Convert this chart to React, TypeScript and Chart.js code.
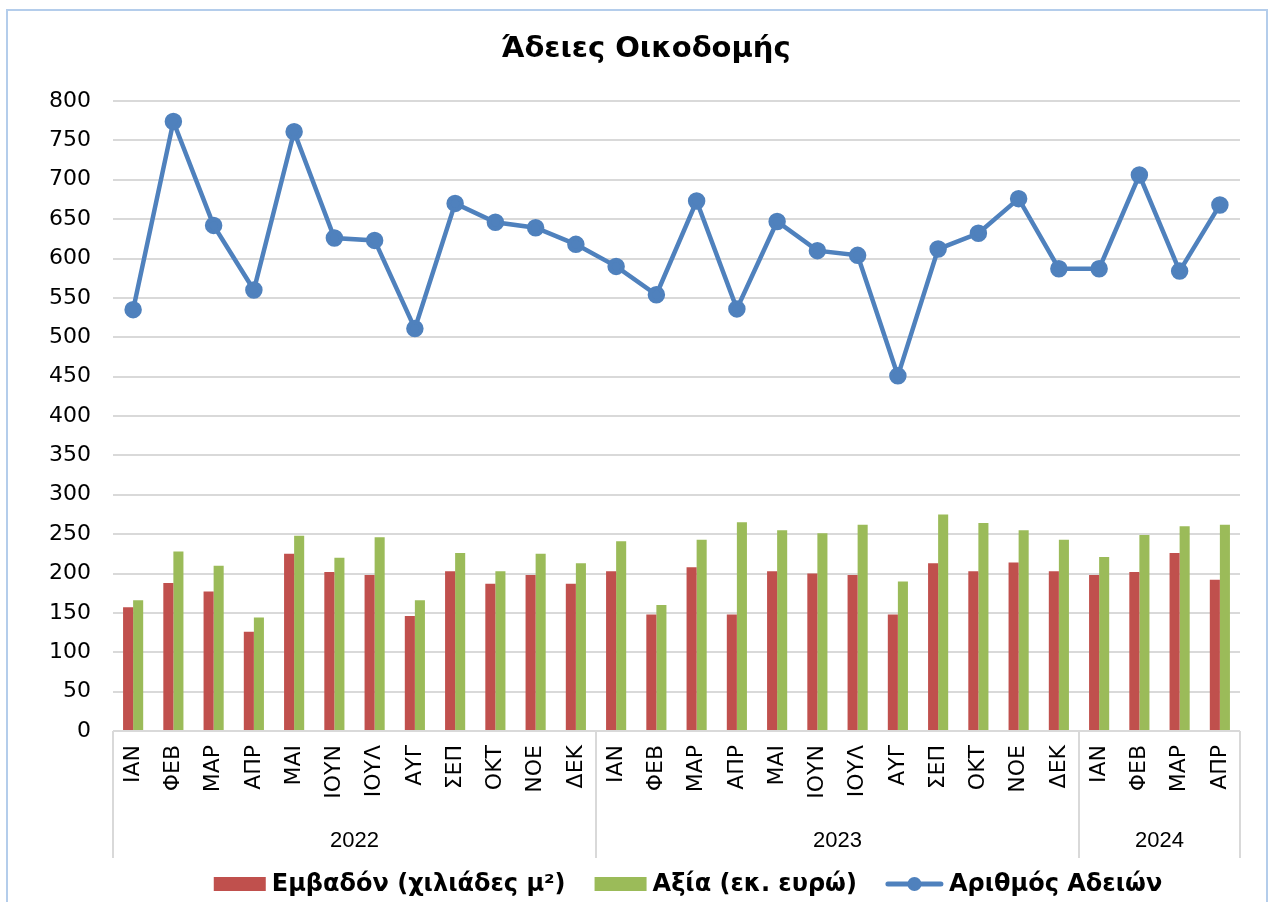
import React, { useEffect, useRef } from "react";
import { Chart, registerables } from "chart.js";

Chart.register(...registerables);

const months = [
  "ΙΑΝ", "ΦΕΒ", "ΜΑΡ", "ΑΠΡ", "ΜΑΙ", "ΙΟΥΝ", "ΙΟΥΛ", "ΑΥΓ", "ΣΕΠ", "ΟΚΤ", "ΝΟΕ", "ΔΕΚ",
  "ΙΑΝ", "ΦΕΒ", "ΜΑΡ", "ΑΠΡ", "ΜΑΙ", "ΙΟΥΝ", "ΙΟΥΛ", "ΑΥΓ", "ΣΕΠ", "ΟΚΤ", "ΝΟΕ", "ΔΕΚ",
  "ΙΑΝ", "ΦΕΒ", "ΜΑΡ", "ΑΠΡ",
];
const years = ["2022", "2023", "2024"];
const yearCounts = [12, 12, 4];

const area = [
  157, 188, 177, 126, 225, 202, 198, 146, 203, 187, 198, 187,
  203, 148, 208, 148, 203, 200, 198, 148, 213, 203, 214, 203,
  198, 202, 226, 192,
];
const value = [
  166, 228, 210, 144, 248, 220, 246, 166, 226, 203, 225, 213,
  241, 160, 243, 265, 255, 251, 262, 190, 275, 264, 255, 243,
  221, 249, 260, 262,
];
const permits = [
  535, 774, 642, 560, 761, 626, 623, 511, 670, 646, 639, 618,
  590, 554, 673, 536, 647, 610, 604, 451, 612, 632, 676, 587,
  587, 706, 584, 668,
];

const TITLE = "Άδειες Οικοδομής";
const LEGEND_LABELS = ["Εμβαδόν (χιλιάδες μ²)", "Αξία (εκ. ευρώ)", "Αριθμός Αδειών"];

const RED = "#C0504D";
const GREEN = "#9BBB59";
const BLUE = "#4F81BD";

const decorPlugin = {
  id: "decor",
  afterDraw(chart: any) {
    const x = chart.scales.x;
    const ctx = chart.ctx;
    const bottom = chart.chartArea.bottom;
    const n = months.length;
    const w = (x.right - x.left) / n;
    ctx.save();
    // year separators
    ctx.strokeStyle = "#D9D9D9";
    ctx.lineWidth = 2;
    let idx = 0;
    const bounds = [0];
    yearCounts.forEach((c) => {
      idx += c;
      bounds.push(idx);
    });
    bounds.forEach((b) => {
      const px = x.left + b * w;
      ctx.beginPath();
      ctx.moveTo(px, bottom);
      ctx.lineTo(px, bottom + 127);
      ctx.stroke();
    });
    ctx.fillStyle = "#000";
    ctx.font = "22px 'Liberation Sans'";
    ctx.textAlign = "center";
    ctx.textBaseline = "middle";
    years.forEach((yr, i) => {
      const cx = x.left + ((bounds[i] + bounds[i + 1]) / 2) * w;
      ctx.fillText(yr, cx, bottom + 110);
    });

    // title
    ctx.font = "bold 29px 'DejaVu Sans'";
    ctx.fillText(TITLE, 638, 38);

    // legend
    ctx.font = "bold 24px 'DejaVu Sans'";
    ctx.textAlign = "left";
    const boxW = [52, 52, 57];
    const gapText = 6;
    const gapItem = 29;
    const widths = LEGEND_LABELS.map((t, i) => boxW[i] + gapText + ctx.measureText(t).width);
    const total = widths.reduce((a, b) => a + b, 0) + gapItem * (widths.length - 1);
    let lx = 680 - total / 2;
    const ly = 873;
    LEGEND_LABELS.forEach((t, i) => {
      if (i < 2) {
        ctx.fillStyle = i === 0 ? RED : GREEN;
        ctx.fillRect(lx, ly - 7, boxW[i], 14);
      } else {
        ctx.strokeStyle = BLUE;
        ctx.lineWidth = 5;
        ctx.lineCap = "round";
        ctx.beginPath();
        ctx.moveTo(lx + 2, ly);
        ctx.lineTo(lx + boxW[i] - 2, ly);
        ctx.stroke();
        ctx.fillStyle = BLUE;
        ctx.beginPath();
        ctx.arc(lx + boxW[i] / 2, ly, 7, 0, Math.PI * 2);
        ctx.fill();
      }
      ctx.fillStyle = "#000";
      ctx.fillText(t, lx + boxW[i] + gapText, ly + 1);
      lx += widths[i] + gapItem;
    });
    ctx.restore();
  },
};

export default function App() {
  const ref = useRef<HTMLCanvasElement>(null);
  useEffect(() => {
    const chart = new Chart(ref.current!, {
      type: "bar",
      data: {
        labels: months,
        datasets: [
          {
            type: "bar",
            label: LEGEND_LABELS[0],
            data: area,
            backgroundColor: RED,
            categoryPercentage: 0.5,
            barPercentage: 1.0,
            order: 1,
          },
          {
            type: "bar",
            label: LEGEND_LABELS[1],
            data: value,
            backgroundColor: GREEN,
            categoryPercentage: 0.5,
            barPercentage: 1.0,
            order: 2,
          },
          {
            type: "line",
            label: LEGEND_LABELS[2],
            data: permits,
            borderColor: BLUE,
            backgroundColor: BLUE,
            borderWidth: 4.5,
            pointRadius: 6.5,
            pointBackgroundColor: BLUE,
            pointBorderColor: BLUE,
            tension: 0,
            order: 0,
          },
        ],
      },
      options: {
        animation: false,
        responsive: false,
        layout: { padding: { left: 0, right: 26, top: 90, bottom: 41 } },
        plugins: {
          title: { display: false },
          legend: { display: false },
          tooltip: { enabled: false },
        },
        scales: {
          x: {
            offset: true,
            grid: { display: false, drawTicks: false },
            border: { display: false },
            ticks: {
              autoSkip: false,
              maxRotation: 90,
              minRotation: 90,
              padding: 14,
              color: "#000",
              font: { family: "'DejaVu Sans'", size: 22 },
            },
            afterFit: (s: any) => {
              s.height = 130;
            },
          },
          y: {
            min: 0,
            max: 800,
            ticks: {
              stepSize: 50,
              padding: 22,
              color: "#000",
              font: { family: "'DejaVu Sans'", size: 22 },
            },
            grid: { color: "#D9D9D9", lineWidth: 2, drawTicks: false },
            border: { display: false },
            afterFit: (s: any) => {
              s.width = 105;
            },
          },
        },
      },
      plugins: [decorPlugin],
    });
    return () => chart.destroy();
  }, []);
  return (
    <div
      style={{
        position: "absolute",
        left: 6,
        top: 9,
        width: 1262,
        height: 900,
        border: "2px solid #B4CDEB",
        boxSizing: "border-box",
        background: "#fff",
      }}
    >
      <canvas ref={ref} width={1258} height={891} style={{ display: "block" }} />
    </div>
  );
}
